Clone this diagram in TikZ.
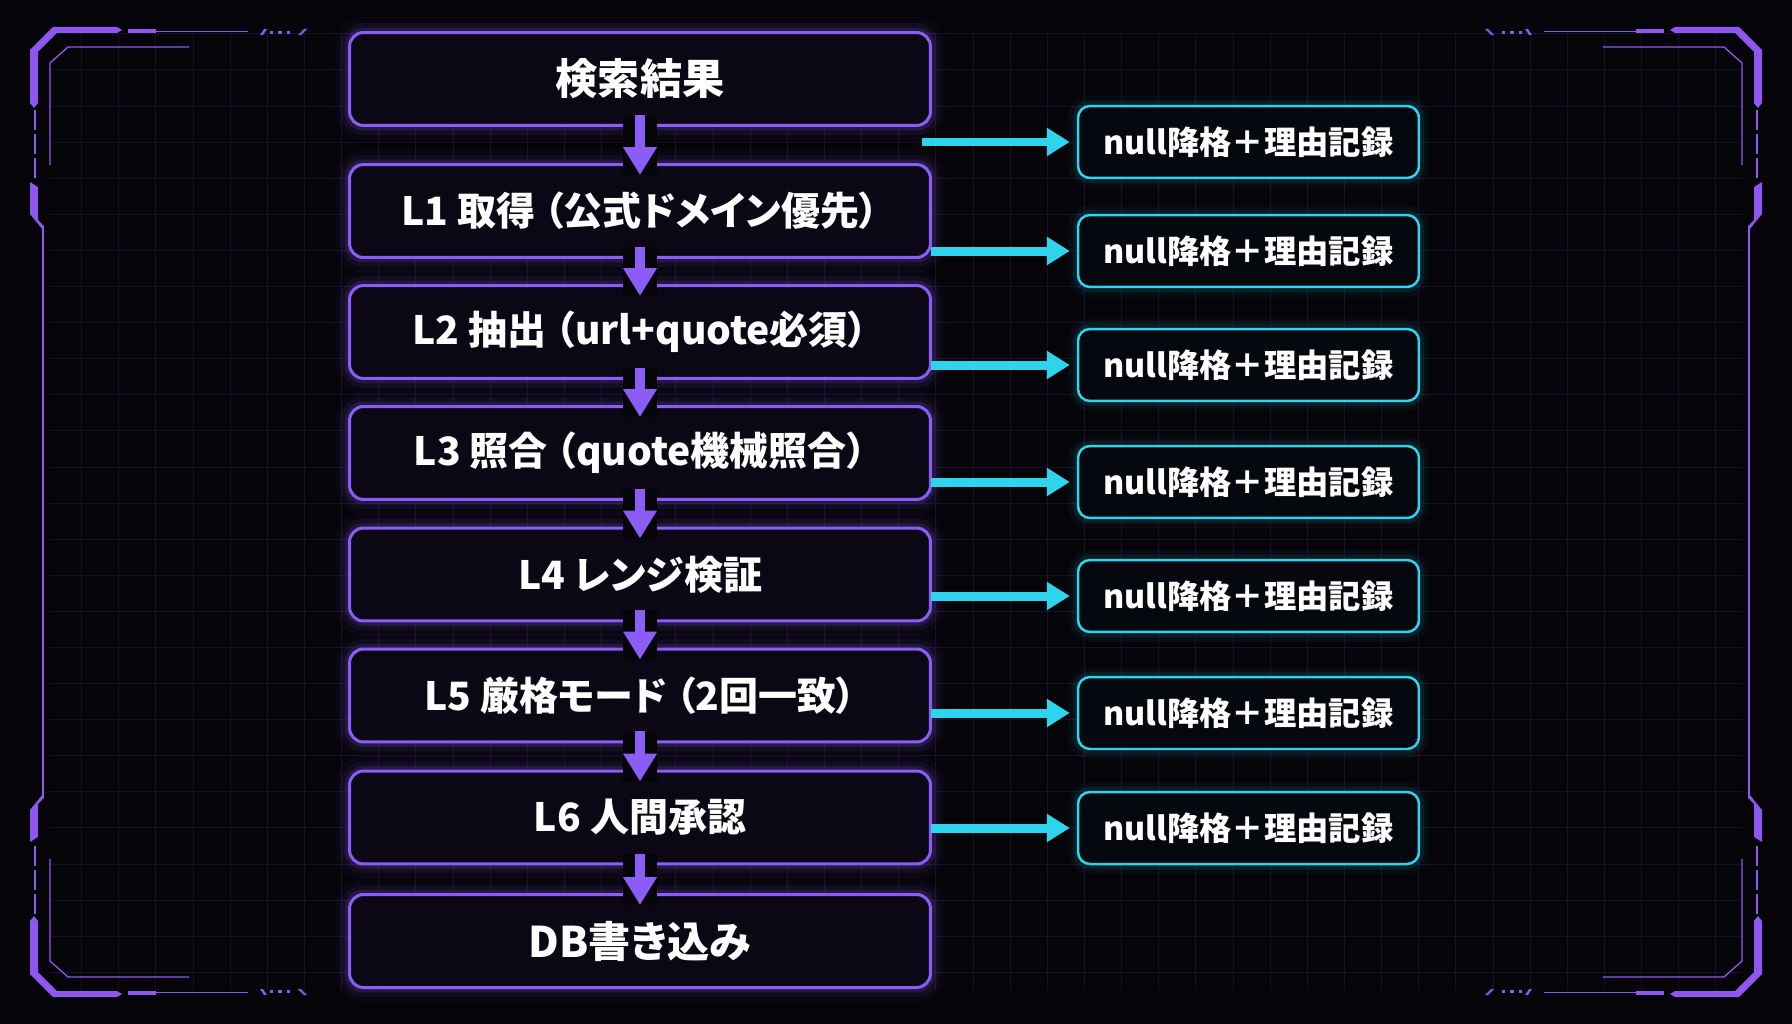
\documentclass[tikz,border=0pt]{standalone}
\usepackage{fontspec}
\setmainfont{Noto Sans CJK JP}[RawFeature=+palt]
\usetikzlibrary{arrows.meta}

\definecolor{bgdark}{HTML}{050409}
\definecolor{gridc}{HTML}{170F2B}
\definecolor{violetc}{HTML}{8B5CF6}
\definecolor{framec}{HTML}{8E58EE}
\definecolor{cyanc}{HTML}{2DD4EC}
\definecolor{stagefill}{HTML}{0B0714}
\definecolor{nullfill}{HTML}{05080E}

\tikzset{
  stagebox/.style={draw=violetc, line width=0.06cm, rounded corners=0.28cm, fill=stagefill,
    minimum width=11.62cm, minimum height=1.86cm, text=white,
    font=\bfseries\fontsize{22.2}{27}\selectfont,
    preaction={draw=violetc, line width=0.6cm, draw opacity=0.04},
    preaction={draw=violetc, line width=0.38cm, draw opacity=0.07},
    preaction={draw=violetc, line width=0.2cm, draw opacity=0.14}},
  bigstage/.style={font=\bfseries\fontsize{24}{28}\selectfont},
  nullbox/.style={draw=cyanc, line width=0.05cm, rounded corners=0.24cm, fill=nullfill,
    minimum width=6.82cm, minimum height=1.44cm, text=white,
    font=\bfseries\fontsize{18.4}{22}\selectfont,
    preaction={draw=cyanc, line width=0.4cm, draw opacity=0.04},
    preaction={draw=cyanc, line width=0.22cm, draw opacity=0.09}},
  flow/.style={violetc, line width=0.2cm, -{Triangle[width=0.64cm,length=0.56cm]},
    preaction={draw=bgdark, line width=0.68cm, -}},
  spill/.style={cyanc, line width=0.18cm, -{Triangle[width=0.54cm,length=0.46cm]}, shorten >=0.14cm},
  gridline/.style={gridc, line width=0.02cm}
}

\newcommand{\stagenode}[4][]{\node[stagebox,#1] (#2) at (640,#3) {#4};}
\newcommand{\nullnode}[2]{\node[nullbox] (#1) at (1248.5,#2) {null降格＋理由記録};}
\newcommand{\cornerdeco}{%
  \fill[framec] (30,103) -- (30,50) -- (53,27) -- (117,27) -- (122,30) -- (117,33) -- (57,33) -- (38,52) -- (38,103) -- (34,108) -- cycle;
  \fill[framec] (128,29.5) rectangle (156,33);
  \draw[framec, line width=0.024cm] (156,31.5) -- (248,31.5);
  \fill[framec] (260,35) -- (264,29) -- (267,29) -- (263,35) -- cycle;
  \fill[framec] (270,31) rectangle (273,34);
  \fill[framec] (278,31) rectangle (282,34);
  \fill[framec] (287,31) rectangle (290,34);
  \fill[framec] (298,35) -- (304,29) -- (307,29) -- (301,35) -- cycle;
  \draw[framec, line width=0.03cm, dash pattern=on 0.4cm off 0.08cm] (35,110) -- (35,178);
  \draw[framec, line width=0.026cm] (50,165) -- (50,63) -- (68,47) -- (189,47);
  \fill[framec] (30,182) -- (38,187) -- (38,220) -- (43.8,226) -- (43.8,231) -- (30,214) -- cycle;
  \draw[framec, line width=0.03cm] (43,228) -- (43,512);
}

\begin{document}
\begin{tikzpicture}[x=0.02cm, y=-0.02cm]
        \useasboundingbox (0,0) rectangle (1792,1024);
        \fill[bgdark] (0,0) rectangle (1792,1024);

        % grid
        \begin{scope}[shift={(81.7,70)}]
          \draw[gridline] (-31.7,-36.2) grid[xstep=0.743cm, ystep=0.722cm] (1660,920);
        \end{scope}

        % frame corners
        \cornerdeco
        \begin{scope}[shift={(1792,0)}, xscale=-1] \cornerdeco \end{scope}
        \begin{scope}[shift={(0,1024)}, yscale=-1] \cornerdeco \end{scope}
        \begin{scope}[shift={(1792,1024)}, scale=-1] \cornerdeco \end{scope}

        % pipeline
        \stagenode[bigstage]{b0}{79}{検索結果}
        \stagenode{b1}{211}{L1 取得 （公式ドメイン優先）}
        \stagenode{b2}{332}{L2 抽出 （url+quote必須）}
        \stagenode{b3}{453}{L3 照合 （quote機械照合）}
        \stagenode{b4}{574.5}{L4 レンジ検証}
        \stagenode{b5}{695.5}{L5 厳格モード （2回一致）}
        \stagenode{b6}{817.5}{L6 人間承認}
        \stagenode[bigstage]{b7}{941}{DB書き込み}

        \draw[flow] ([yshift=0.24cm]b0.south) -- ([yshift=-0.24cm]b1.north);
        \draw[flow] ([yshift=0.24cm]b1.south) -- ([yshift=-0.24cm]b2.north);
        \draw[flow] ([yshift=0.24cm]b2.south) -- ([yshift=-0.24cm]b3.north);
        \draw[flow] ([yshift=0.24cm]b3.south) -- ([yshift=-0.24cm]b4.north);
        \draw[flow] ([yshift=0.24cm]b4.south) -- ([yshift=-0.24cm]b5.north);
        \draw[flow] ([yshift=0.24cm]b5.south) -- ([yshift=-0.24cm]b6.north);
        \draw[flow] ([yshift=0.24cm]b6.south) -- ([yshift=-0.24cm]b7.north);

        % fallbacks
        \nullnode{n1}{142}
        \nullnode{n2}{251}
        \nullnode{n3}{365}
        \nullnode{n4}{482}
        \nullnode{n5}{596}
        \nullnode{n6}{713}
        \nullnode{n7}{828}

        \coordinate (c1) at (922,142);
        \coordinate (c2) at (931,251);
        \coordinate (c3) at (931,365);
        \coordinate (c4) at (931,482);
        \coordinate (c5) at (931,596);
        \coordinate (c6) at (931,713);
        \coordinate (c7) at (931,828);

        \draw[spill] (c1) -- (n1);
        \draw[spill] (c2) -- (n2);
        \draw[spill] (c3) -- (n3);
        \draw[spill] (c4) -- (n4);
        \draw[spill] (c5) -- (n5);
        \draw[spill] (c6) -- (n6);
        \draw[spill] (c7) -- (n7);
\end{tikzpicture}
\end{document}
